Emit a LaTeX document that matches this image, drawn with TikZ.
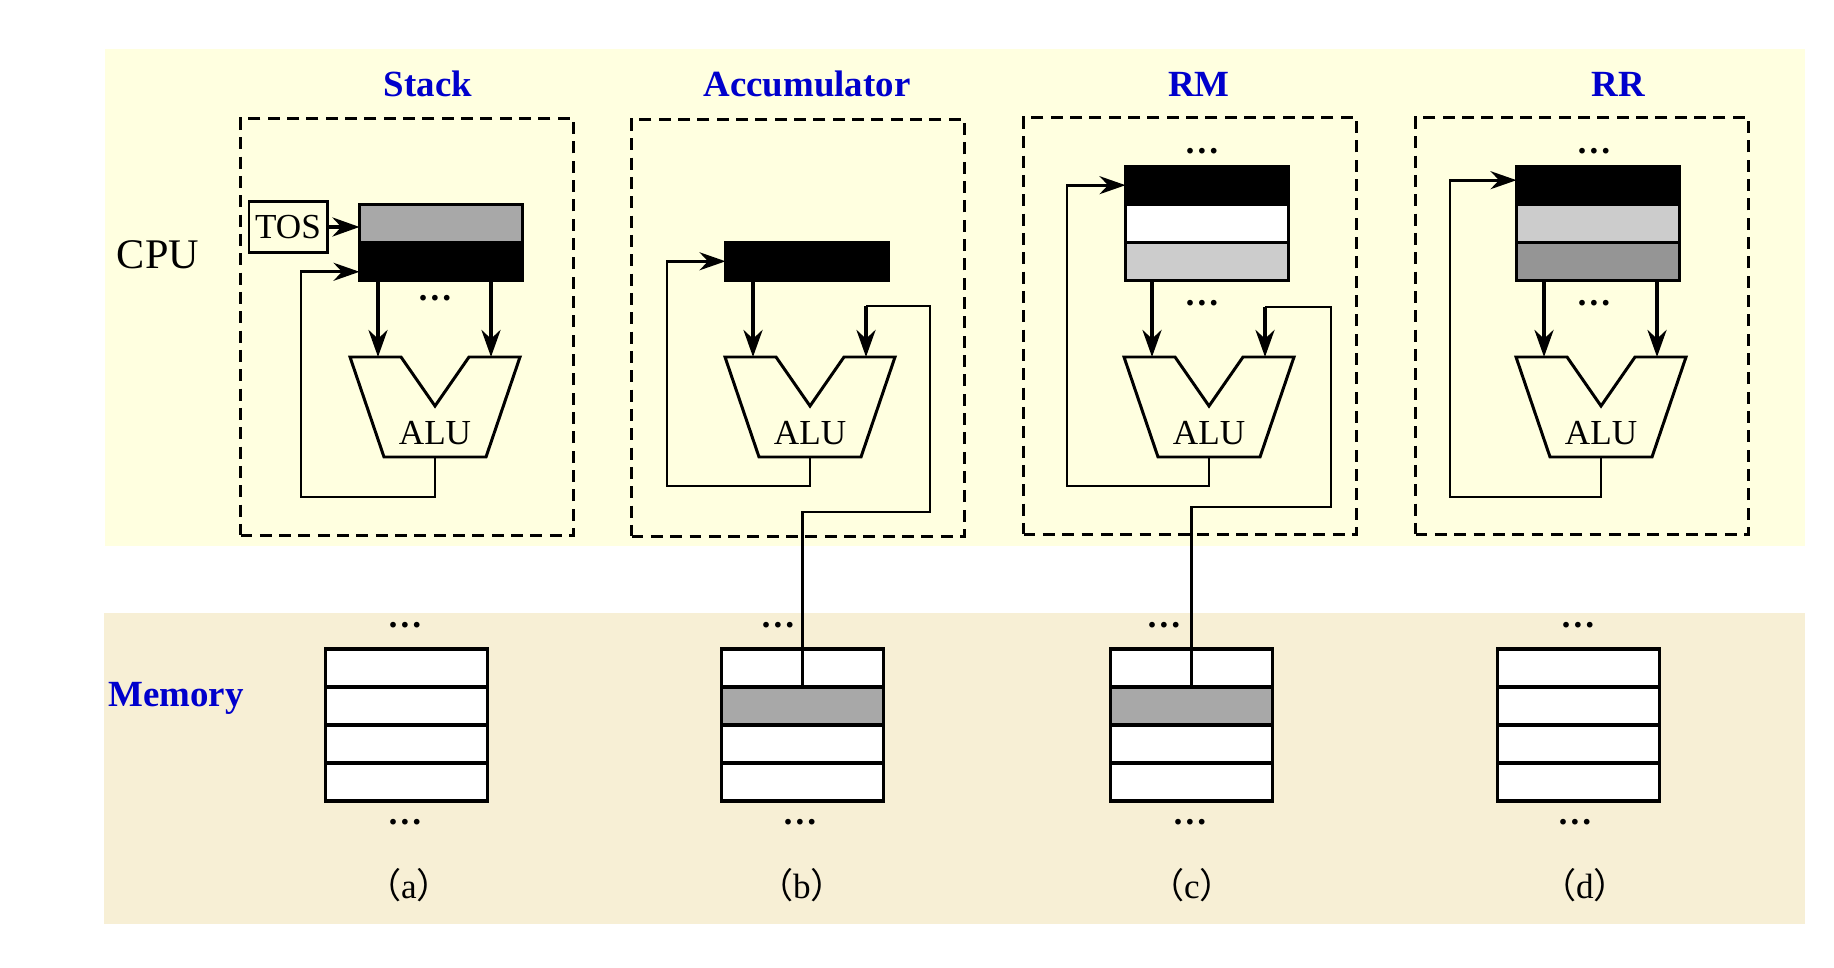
\documentclass[tikz,border=0pt]{standalone}
\usepackage{fontspec}
\setmainfont{Liberation Serif}
\newfontfamily\cjk{Noto Sans CJK SC}
\usepackage{xcolor}
\definecolor{cpuBg}{RGB}{255,255,224}
\definecolor{memBg}{RGB}{247,239,213}
\definecolor{mBlue}{RGB}{0,0,204}
\definecolor{cellGray}{RGB}{168,168,168}
\definecolor{cellLight}{RGB}{204,204,204}
\definecolor{cellMid}{RGB}{149,149,149}
\usetikzlibrary{
  arrows.meta,
  positioning,
  calc
}
\tikzset{
  archtitle/.style={font=\fontsize{10.5}{13}\selectfont\bfseries, text=mBlue},
  unitbox/.style={
    draw,
    line width=1pt,
    dash pattern=on 3.4pt off 2.1pt,
    minimum width=3.33cm,
    minimum height=4.17cm
  },
  regcell/.style={
    draw=black,
    fill=#1,
    line width=0.85pt,
    minimum width=1.63cm,
    minimum height=0.383cm,
    inner sep=0pt,
    outer sep=0pt
  },
  memcell/.style={
    draw=black,
    fill=#1,
    line width=0.9pt,
    minimum width=1.62cm,
    minimum height=0.38cm,
    inner sep=0pt,
    outer sep=0pt
  },
  dotsnode/.style={font=\bfseries, inner sep=0pt},
  alubody/.style={draw, fill=cpuBg, line width=0.85pt},
  busarrow/.style={
    -{Stealth[length=2.7mm, width=1.9mm]},
    line width=1.15pt
  },
  loopline/.style={line width=0.8pt},
  looparrow/.style={
    -{Stealth[length=2.6mm, width=1.8mm]},
    line width=0.8pt
  }
}

\begin{document}
\begin{tikzpicture}
  \useasboundingbox (0,0) rectangle (18.34,9.67);
  % Faixas CPU / memoria
  \fill[cpuBg] (1.05,4.21) rectangle (18.05,9.18);
  \fill[memBg] (1.04,0.43) rectangle (18.05,3.54);
  \node[font=\fontsize{12}{14}\selectfont] (cpu) at (1.58,7.12) {CPU};
  \node[archtitle] (memory) at (1.76,2.69) {Memory};

  % Titulos e unidades tracejadas
  \node[archtitle] (ta) at (4.28,8.83) {Stack};
  \node[archtitle] (tb) at (8.07,8.83) {Accumulator};
  \node[archtitle] (tc) at (11.99,8.83) {RM};
  \node[archtitle] (td) at (16.18,8.83) {RR};
  \node[unitbox] (unita) at (4.07,6.40) {};
  \node[unitbox] (unitb) at (7.98,6.39) {};
  \node[unitbox] (unitc) at (11.90,6.41) {};
  \node[unitbox] (unitd) at (15.82,6.41) {};

  % ALUs
  \foreach \p/\cx in {a/4.35, b/8.10, c/12.09, d/16.01}{
    \draw[alubody] (\cx-0.85,6.10) -- (\cx-0.34,6.10) -- (\cx,5.61)
      -- (\cx+0.34,6.10) -- (\cx+0.85,6.10) -- (\cx+0.51,5.10)
      -- (\cx-0.51,5.10) -- cycle;
    \node (alu\p) at (\cx,5.34) {ALU};
    \coordinate (alu\p-l) at (\cx-0.57,6.10);
    \coordinate (alu\p-r) at (\cx+0.56,6.10);
    \coordinate (alu\p-o) at (\cx,5.10);
  }

  % Memoria
  \foreach \p/\mx/\mc in {a/4.066/white, b/8.025/cellGray, c/11.916/cellGray, d/15.783/white}{
    \node[memcell=white] (mem\p1) at (\mx,2.99) {};
    \node[memcell=\mc, below=0pt of mem\p1] (mem\p2) {};
    \node[memcell=white, below=0pt of mem\p2] (mem\p3) {};
    \node[memcell=white, below=0pt of mem\p3] (mem\p4) {};
  }
  \foreach \p/\tx/\bx/\lx in {a/4.05/4.05/4.09, b/7.78/8.00/8.02, c/11.64/11.90/11.92, d/15.78/15.75/15.85}{
    \node[dotsnode] (memtop\p) at (\tx,3.42) {…};
    \node[dotsnode] (membot\p) at (\bx,1.45) {…};
    \node (lab\p) at (\lx,0.82) {{\cjk（}\p{\cjk）}};
  }

  % (a) Stack
  \node[draw, line width=0.85pt, minimum width=0.78cm, minimum height=0.51cm, inner sep=1pt]
    (tos) at (2.88,7.40) {TOS};
  \node[regcell=cellGray] (rega1) at (4.41,7.435) {};
  \node[regcell=black, below=0pt of rega1] (rega2) {};
  \node[dotsnode] (dotsa) at (4.35,6.69) {…};
  \draw[busarrow] (tos.east) -- (tos.east -| rega1.west);
  \draw[busarrow] (alua-l |- rega2.south) -- (alua-l);
  \draw[busarrow] (alua-r |- rega2.south) -- (alua-r);
  \coordinate (benda) at (3.01,4.70);
  \draw[looparrow] (alua-o) |- (benda) |- ([yshift=-1mm]rega2.west);

  % (b) Accumulator
  \node[regcell=black] (regb1) at (8.07,7.057) {};
  \draw[busarrow] (alub-l |- regb1.south) -- (alub-l);
  \coordinate (bendb) at (6.67,4.81);
  \draw[looparrow] (alub-o) |- (bendb) |- (regb1.west);
  \coordinate (tapb) at ($(alub-r)+(0,0.51)$);
  \coordinate (riserb) at (9.30,4.55);
  \draw[loopline] (memb2.north) |- (riserb) |- (tapb);
  \draw[busarrow] (tapb) -- (alub-r);

  % (c) RM
  \node[dotsnode] (topc) at (12.02,8.16) {…};
  \node[regcell=black] (regc1) at (12.07,7.818) {};
  \node[regcell=white, below=0pt of regc1] (regc2) {};
  \node[regcell=cellLight, below=0pt of regc2] (regc3) {};
  \node[dotsnode] (dotsc) at (12.02,6.64) {…};
  \draw[busarrow] (aluc-l |- regc3.south) -- (aluc-l);
  \coordinate (bendc) at (10.67,4.81);
  \draw[looparrow] (aluc-o) |- (bendc) |- (regc1.west);
  \coordinate (tapc) at ($(aluc-r)+(0,0.50)$);
  \coordinate (riserc) at (13.31,4.60);
  \draw[loopline] (memc2.north) |- (riserc) |- (tapc);
  \draw[busarrow] (tapc) -- (aluc-r);

  % (d) RR
  \node[dotsnode] (topd) at (15.94,8.16) {…};
  \node[regcell=black] (regd1) at (15.98,7.818) {};
  \node[regcell=cellLight, below=0pt of regd1] (regd2) {};
  \node[regcell=cellMid, below=0pt of regd2] (regd3) {};
  \node[dotsnode] (dotsd) at (15.94,6.64) {…};
  \draw[busarrow] (alud-l |- regd3.south) -- (alud-l);
  \draw[busarrow] (alud-r |- regd3.south) -- (alud-r);
  \coordinate (bendd) at (14.50,4.70);
  \draw[looparrow] (alud-o) |- (bendd) |- ([yshift=0.5mm]regd1.west);
\end{tikzpicture}
\end{document}
